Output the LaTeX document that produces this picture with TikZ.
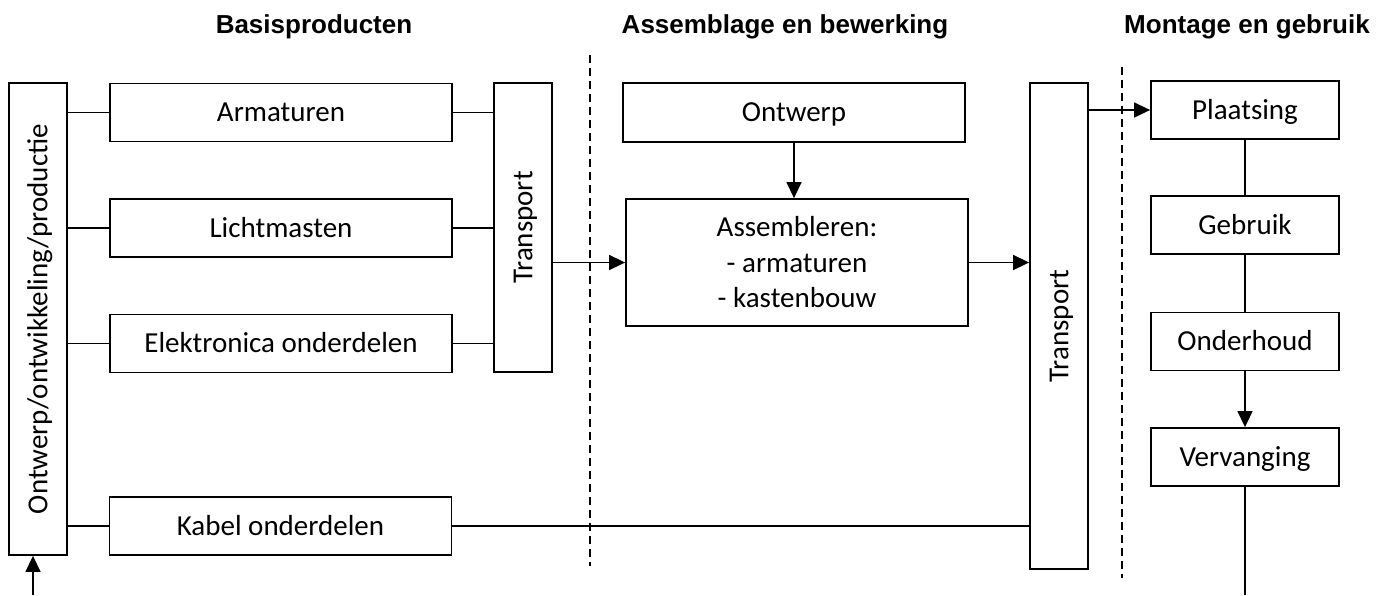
\documentclass[tikz,border=0pt]{standalone}
\usepackage{fontspec}
\setmainfont{Carlito}
\newfontfamily\headfont{Liberation Sans}
\usetikzlibrary{arrows.meta}
\begin{document}
\begin{tikzpicture}[x=1pt,y=-1pt,
  box/.style={draw, line width=1.8pt, inner sep=0pt, align=center,
    font=\fontsize{29}{35.5}\selectfont},
  one/.style={text height=18.7pt, text depth=0pt},
  wide/.style={box, one, minimum width=342, minimum height=58},
  small/.style={box, one, minimum width=188, minimum height=58},
  tall/.style={box, minimum width=58},
  txt/.style={font=\fontsize{29}{35.5}\selectfont, inner sep=0pt, one},
  head/.style={font=\headfont\bfseries\fontsize{26}{30}\selectfont, anchor=base, inner sep=0pt},
  conn/.style={line width=1.5pt},
  arr/.style={conn, -{Triangle[length=16pt,width=15pt]}},
  sep/.style={line width=1.6pt, dash pattern=on 8pt off 5pt}]
\useasboundingbox (0,0) rectangle (1388,595);

% headings
\node[head] (h1) at (314,33) {Basisproducten};
\node[head] (h2) at (785,33) {Assemblage en bewerking};
\node[head] (h3) at (1247,33) {Montage en gebruik};

% left column
\node[tall, minimum height=472] (ont) at (38,319) {};
\node[txt, rotate=90] (ontt) at (ont.center) {Ontwerp/ontwikkeling/productie};

\node[wide] (arm) at (281,112.5) {Armaturen};
\node[wide] (licht) at (281,228) {Lichtmasten};
\node[wide] (elek) at (281,343.5) {Elektronica onderdelen};
\node[wide] (kabel) at (280.5,526) {Kabel onderdelen};

\node[tall, minimum height=289] (tr1) at (523,227.5) {};
\node[txt, rotate=90] (tr1t) at (tr1.center) {Transport};

% middle column
\node[wide, minimum height=59] (ontw) at (794,112.5) {Ontwerp};
\node[box, minimum width=342, minimum height=127] (ass) at (797,262.5) {Assembleren:\\- armaturen\\- kastenbouw};

\node[tall, minimum height=486] (tr2) at (1059,326) {};
\node[txt, rotate=90] (tr2t) at (tr2.center) {Transport};

% right column
\node[small] (plaats) at (1245,110) {Plaatsing};
\node[small] (gebr) at (1245,225) {Gebruik};
\node[small] (onder) at (1245,341.5) {Onderhoud};
\node[small] (verv) at (1245,457) {Vervanging};

% separators
\coordinate (d1a) at (590,55);
\coordinate (d1b) at (590,566);
\coordinate (d2a) at (1122,67);
\coordinate (d2b) at (1122,578);
\draw[sep] (d1a) -- (d1b);
\draw[sep] (d2a) -- (d2b);

% connectors
\draw[conn] (arm.west) -- (arm.west -| ont.east);
\draw[conn] (licht.west) -- (licht.west -| ont.east);
\draw[conn] (elek.west) -- (elek.west -| ont.east);
\draw[conn] (kabel.west) -- (kabel.west -| ont.east);
\draw[conn] (arm.east) -- (arm.east -| tr1.west);
\draw[conn] (licht.east) -- (licht.east -| tr1.west);
\draw[conn] (elek.east) -- (elek.east -| tr1.west);
\draw[arr] (ass.west -| tr1.east) -- (ass.west);
\draw[arr] (ontw.south) -- (ontw.south |- ass.north);
\draw[arr] (ass.east) -- (ass.east -| tr2.west);
\draw[conn] (kabel.east) -- (kabel.east -| tr2.west);
\draw[arr] (plaats.west -| tr2.east) -- (plaats.west);
\draw[conn] (plaats.south) -- (gebr.north);
\draw[conn] (gebr.south) -- (onder.north);
\draw[arr] (onder.south) -- (verv.north);
\coordinate (vend) at (1245,595);
\draw[conn] (verv.south) -- (vend);
\coordinate (bot) at (33,595);
\draw[arr] (bot) -- (bot |- ont.south);
\end{tikzpicture}
\end{document}
